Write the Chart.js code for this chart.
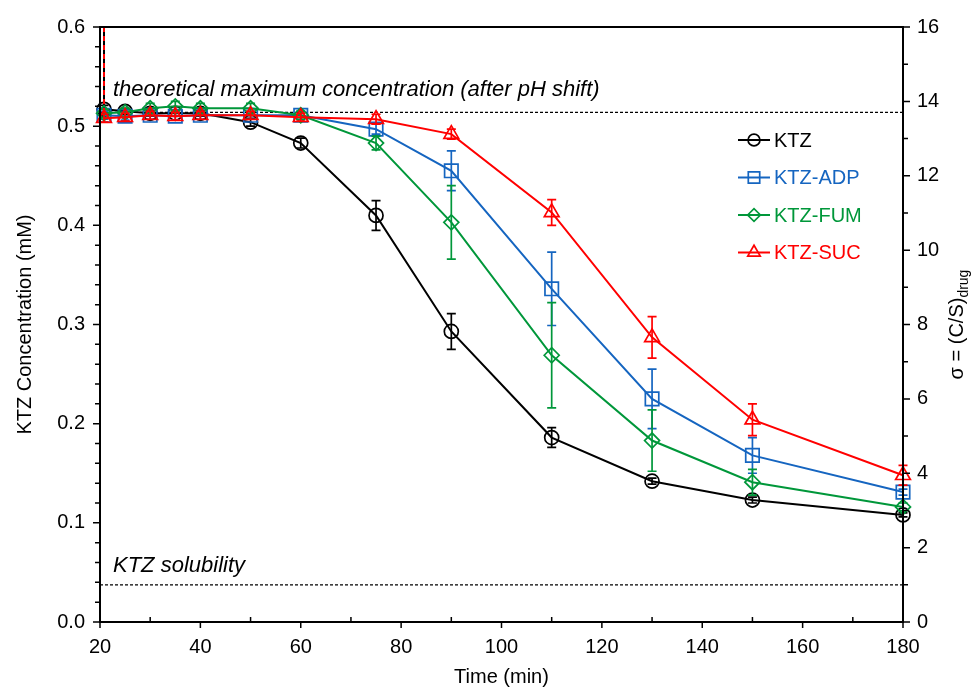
<!DOCTYPE html>
<html>
<head>
<meta charset="utf-8">
<script src="https://cdn.jsdelivr.net/npm/chart.js@4"></script>
<style>
html, body { margin: 0; padding: 0; background: #fff; }
#wrap { width: 974px; height: 688px; }
</style>
</head>
<body>
<div id="wrap"><canvas id="chart"></canvas></div>
<script>
// sampling times (min); first entry is the pre-shift point that runs off the top
const times = [20.7, 20.8, 25, 30, 35, 40, 50, 60, 75, 90, 110, 130, 150, 180];

const ktz    = [6,    0.517, 0.515, 0.513, 0.513, 0.513, 0.504, 0.483, 0.410, 0.293, 0.186, 0.142, 0.123, 0.108];
const ktzErr = [0,    0.004, 0.003, 0.003, 0.003, 0.003, 0.004, 0.005, 0.015, 0.018, 0.010, 0.003, 0.003, 0.002];
const adp    = [null, 0.511, 0.510, 0.511, 0.510, 0.511, 0.511, 0.511, 0.497, 0.455, 0.336, 0.225, 0.168, 0.131];
const adpErr = [0,    0.004, 0.004, 0.004, 0.004, 0.004, 0.004, 0.004, 0.005, 0.020, 0.037, 0.030, 0.018, 0.003];
const fum    = [null, 0.513, 0.514, 0.518, 0.520, 0.518, 0.518, 0.511, 0.483, 0.403, 0.269, 0.183, 0.141, 0.116];
const fumErr = [0,    0.004, 0.004, 0.005, 0.005, 0.005, 0.005, 0.004, 0.007, 0.037, 0.053, 0.031, 0.013, 0.004];
const suc    = [6,    0.508, 0.509, 0.511, 0.510, 0.511, 0.511, 0.509, 0.507, 0.492, 0.413, 0.287, 0.204, 0.148];
const sucErr = [0,    0.004, 0.004, 0.004, 0.004, 0.004, 0.004, 0.004, 0.005, 0.005, 0.013, 0.021, 0.016, 0.010];

const seriesNames = ['KTZ', 'KTZ-ADP', 'KTZ-FUM', 'KTZ-SUC'];
const seriesColors = ['#000000', '#1565c0', '#00973a', '#ff0000'];

const theoMax = 0.514;      // mM, dashed line
const solubility = 0.0375;  // mM, dashed line (sigma = 1)
const sigmaMax = 16;        // right axis top = 0.6 / solubility

const FONT = '"Liberation Sans", Arial, sans-serif';

function mkPts(vals) {
    return vals.map((v, i) => ({ x: times[i], y: v }));
}

const allErr = [ktzErr, adpErr, fumErr, sucErr];
const styles = ['circle', 'rect', 'rectRot', 'triangle'];
const radii = [7, 9.5, 7.5, 8.5];

const extras = {
    id: 'extras',
    afterDatasetDraw(chart, args) {
        const ctx = chart.ctx;
        const xs = chart.scales.x, ys = chart.scales.y;
        const ds = chart.data.datasets[args.index];
        const err = allErr[args.index];
        const a = chart.chartArea;
        ctx.save();
        ctx.beginPath();
        ctx.rect(a.left - 10, a.top, a.right - a.left + 20, a.bottom - a.top);
        ctx.clip();
        ctx.strokeStyle = ds.borderColor;
        ctx.lineWidth = 1.7;
        ds.data.forEach((p, i) => {
            if (p.y === null || !err[i]) return;
            const px = xs.getPixelForValue(p.x);
            const t = ys.getPixelForValue(p.y + err[i]);
            const b = ys.getPixelForValue(p.y - err[i]);
            ctx.beginPath();
            ctx.moveTo(px, t); ctx.lineTo(px, b);
            ctx.moveTo(px - 4.5, t); ctx.lineTo(px + 4.5, t);
            ctx.moveTo(px - 4.5, b); ctx.lineTo(px + 4.5, b);
            ctx.stroke();
        });
        ctx.restore();
    },
    beforeDatasetsDraw(chart) {
        const ctx = chart.ctx;
        const a = chart.chartArea;
        const ys = chart.scales.y;
        ctx.save();
        ctx.strokeStyle = '#000';
        ctx.lineWidth = 1.3;
        ctx.setLineDash([3, 2]);
        [theoMax, solubility].forEach(v => {
            const py = ys.getPixelForValue(v);
            ctx.beginPath();
            ctx.moveTo(a.left, py); ctx.lineTo(a.right, py);
            ctx.stroke();
        });
        ctx.setLineDash([]);
        ctx.fillStyle = '#000';
        ctx.font = 'italic 22px ' + FONT;
        ctx.textBaseline = 'alphabetic';
        ctx.textAlign = 'left';
        ctx.fillText('theoretical maximum concentration (after pH shift)', a.left + 13, ys.getPixelForValue(theoMax) - 16);
        ctx.fillText('KTZ solubility', a.left + 13, ys.getPixelForValue(solubility) - 13);
        ctx.restore();
    },
    afterDraw(chart) {
        const ctx = chart.ctx;
        const a = chart.chartArea;
        const xs = chart.scales.x, ys = chart.scales.y, y2 = chart.scales.y2;
        ctx.save();
        ctx.strokeStyle = '#000';
        ctx.lineWidth = 2;
        ctx.strokeRect(a.left, a.top, a.right - a.left, a.bottom - a.top);

        // tick marks
        ctx.lineWidth = 1.5;
        ctx.beginPath();
        xs.ticks.forEach(t => {
            const px = xs.getPixelForValue(t.value);
            if (t.value % 20 === 0) { ctx.moveTo(px, a.bottom); ctx.lineTo(px, a.bottom + 6); }
            else { ctx.moveTo(px, a.bottom); ctx.lineTo(px, a.bottom - 5); }
        });
        ys.ticks.forEach(t => {
            const py = ys.getPixelForValue(t.value);
            const major = Math.round(t.value * 100) % 10 === 0;
            ctx.moveTo(a.left, py); ctx.lineTo(a.left - (major ? 7 : 5), py);
        });
        y2.ticks.forEach(t => {
            const py = y2.getPixelForValue(t.value);
            const major = t.value % 2 === 0;
            ctx.moveTo(a.right, py); ctx.lineTo(a.right + (major ? 7 : 5), py);
        });
        ctx.stroke();

        // axis titles
        ctx.fillStyle = '#000';
        ctx.font = '20px ' + FONT;
        ctx.textAlign = 'center';
        ctx.textBaseline = 'middle';
        ctx.fillText('Time (min)', (a.left + a.right) / 2, 677);
        ctx.save();
        ctx.translate(25, (a.top + a.bottom) / 2);
        ctx.rotate(-Math.PI / 2);
        ctx.fillText('KTZ Concentration (mM)', 0, 0);
        ctx.restore();

        ctx.save();
        ctx.translate(956, (a.top + a.bottom) / 2);
        ctx.rotate(-Math.PI / 2);
        ctx.textAlign = 'left';
        ctx.textBaseline = 'alphabetic';
        const main = '\u03c3 = (C/S)';
        ctx.font = '20px ' + FONT;
        const w1 = ctx.measureText(main).width;
        ctx.font = '14px ' + FONT;
        const w2 = ctx.measureText('drug').width;
        const x0 = -(w1 + w2) / 2;
        ctx.font = '20px ' + FONT;
        ctx.fillText(main, x0, 7);
        ctx.font = '14px ' + FONT;
        ctx.fillText('drug', x0 + w1, 12);
        ctx.restore();

        // legend
        const lx = 738, ly = 140, gap = 37.5;
        chart.data.datasets.forEach((ds, i) => {
            const y = ly + i * gap;
            ctx.strokeStyle = seriesColors[i];
            ctx.lineWidth = 2;
            ctx.beginPath();
            ctx.moveTo(lx, y); ctx.lineTo(lx + 32, y);
            ctx.stroke();
            ctx.fillStyle = 'rgba(0,0,0,0)';
            ctx.lineWidth = 1.7;
            Chart.helpers.drawPoint(ctx, { pointStyle: styles[i], radius: radii[i] * 0.85, borderWidth: 1.7, rotation: 0 }, lx + 16, y);
            ctx.fillStyle = seriesColors[i];
            ctx.font = '20px ' + FONT;
            ctx.textAlign = 'left';
            ctx.textBaseline = 'middle';
            ctx.fillText(seriesNames[i], lx + 36, y + 1);
        });
        ctx.restore();
    }
};

function mkSet(i, vals, order) {
    return {
        label: seriesNames[i],
        data: mkPts(vals),
        borderColor: seriesColors[i],
        backgroundColor: 'rgba(0,0,0,0)',
        borderWidth: 2,
        pointStyle: styles[i],
        pointRadius: radii[i],
        pointBorderWidth: 1.7,
        pointBackgroundColor: 'rgba(0,0,0,0)',
        pointBorderColor: seriesColors[i],
        spanGaps: false,
        tension: 0,
        order: order,
        clip: { left: 12, right: 12, top: 0, bottom: 0 },
        segment: {
            borderDash: c => (c.p0DataIndex === 0 && i === 3) ? [5, 4] : undefined
        }
    };
}

new Chart(document.getElementById('chart'), {
    type: 'line',
    data: {
        datasets: [
            mkSet(0, ktz, 4),
            mkSet(1, adp, 3),
            mkSet(2, fum, 2),
            mkSet(3, suc, 1)
        ]
    },
    options: {
        responsive: true,
        maintainAspectRatio: false,
        animation: false,
        layout: { padding: { top: 24, left: 0, right: 0, bottom: 0 } },
        plugins: { legend: { display: false }, tooltip: { enabled: false } },
        scales: {
            x: {
                type: 'linear', min: 20, max: 180,
                afterFit: s => { s.height = 66; },
                grid: { display: false, drawTicks: false },
                border: { display: false },
                ticks: {
                    stepSize: 10, autoSkip: false, maxRotation: 0, padding: 13,
                    color: '#000', font: { family: FONT, size: 20 },
                    callback: v => (v % 20 === 0 ? v : '')
                }
            },
            y: {
                min: 0, max: 0.6,
                afterFit: s => { s.width = 100; },
                grid: { display: false, drawTicks: false },
                border: { display: false },
                ticks: {
                    stepSize: 0.02, autoSkip: false, padding: 15,
                    color: '#000', font: { family: FONT, size: 20 },
                    callback: v => (Math.round(v * 100) % 10 === 0 ? v.toFixed(1) : '')
                }
            },
            y2: {
                position: 'right', min: 0, max: sigmaMax,
                afterFit: s => { s.width = 71; },
                grid: { display: false, drawTicks: false },
                border: { display: false },
                ticks: {
                    stepSize: 1, autoSkip: false, padding: 14,
                    color: '#000', font: { family: FONT, size: 20 },
                    callback: v => (v % 2 === 0 ? v : '')
                }
            }
        }
    },
    plugins: [extras]
});
</script>
</body>
</html>
